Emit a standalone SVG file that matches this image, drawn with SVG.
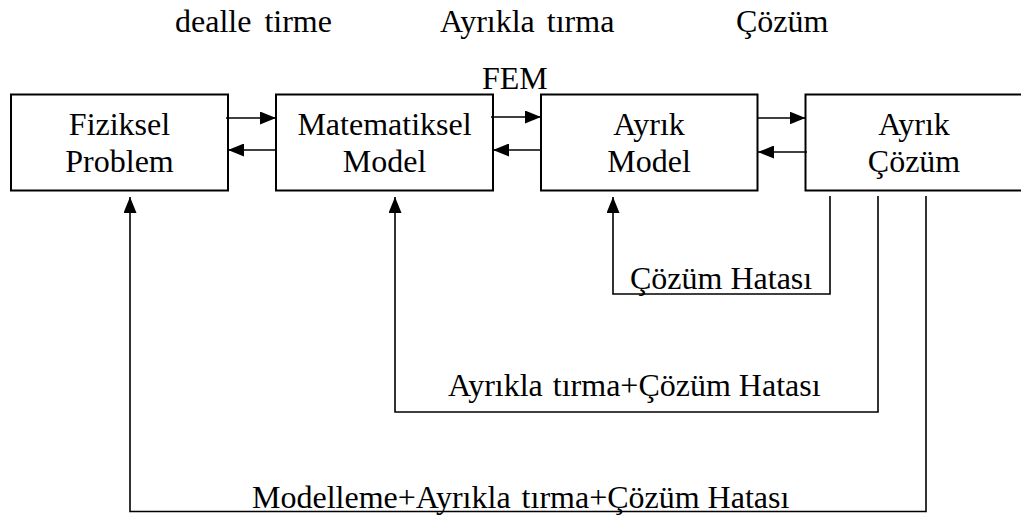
<svg xmlns="http://www.w3.org/2000/svg" width="1021" height="516" viewBox="0 0 1021 516">
  <style>
    text { font-family: "Liberation Serif", "Times New Roman", serif; font-size: 32px; fill: #000; }
    .box { fill: #fff; stroke: #000; stroke-width: 2; }
    .lbl { text-anchor: middle; }
    .conn { fill: none; stroke: #000; stroke-width: 1.6; marker-end: url(#arrow); }
    .loop { fill: none; stroke: #000; stroke-width: 1.6; marker-end: url(#arrow); }
  </style>
  <defs>
    <marker id="arrow" markerUnits="userSpaceOnUse" markerWidth="16" markerHeight="13" viewBox="0 0 16 13" refX="16" refY="6.5" orient="auto">
      <path d="M0,0 L16,6.5 L0,13 Z" fill="#000"/>
    </marker>
  </defs>

  <rect width="1021" height="516" fill="#fff"/>

  <!-- stage headings -->
  <g id="headings">
    <text x="175" y="32">dealle<tspan dx="5"> tirme</tspan></text>
    <text x="440" y="32">Ayrıkla<tspan dx="4"> tırma</tspan></text>
    <text x="736" y="32">Çözüm</text>
    <text x="482" y="89">FEM</text>
  </g>

  <g id="fiziksel-problem">
    <rect class="box" x="11" y="94.5" width="217" height="96"/>
    <text class="lbl" x="119.5" y="135">Fiziksel</text>
    <text class="lbl" x="119.5" y="171.5">Problem</text>
  </g>

  <g id="matematiksel-model">
    <rect class="box" x="276" y="94.5" width="217" height="96"/>
    <text class="lbl" x="384.5" y="135">Matematiksel</text>
    <text class="lbl" x="384.5" y="171.5">Model</text>
  </g>

  <g id="ayrik-model">
    <rect class="box" x="541" y="94.5" width="216.5" height="96"/>
    <text class="lbl" x="649" y="135">Ayrık</text>
    <text class="lbl" x="649" y="171.5">Model</text>
  </g>

  <g id="ayrik-cozum">
    <rect class="box" x="805.5" y="94.5" width="218" height="96"/>
    <text class="lbl" x="914" y="135">Ayrık</text>
    <text class="lbl" x="914" y="171.5">Çözüm</text>
  </g>

  <g id="connectors">
    <!-- forward / backward pairs between neighbouring blocks -->
    <line class="conn" x1="226" y1="118" x2="276" y2="118"/>
    <line class="conn" x1="276" y1="150" x2="228" y2="150"/>
    <line class="conn" x1="491" y1="117" x2="541" y2="117"/>
    <line class="conn" x1="541" y1="150" x2="493" y2="150"/>
    <line class="conn" x1="758" y1="118" x2="805.5" y2="118"/>
    <line class="conn" x1="807" y1="152" x2="758" y2="152"/>

    <!-- error feedback loops -->
    <polyline class="loop" points="830,196 830,294 613,294 613,197"/>
    <polyline class="loop" points="878,196 878,412 395,412 395,197"/>
    <polyline class="loop" points="926,196 926,511.5 130,511.5 130,197"/>
  </g>

  <g id="loop-labels">
    <text x="630" y="289">Çözüm Hatası</text>
    <text x="448" y="396">Ayrıkla<tspan dx="2"> tırma+Çözüm Hatası</tspan></text>
    <text x="252" y="508">Modelleme+Ayrıkla<tspan dx="3"> tırma+Çözüm Hatası</tspan></text>
  </g>
</svg>
